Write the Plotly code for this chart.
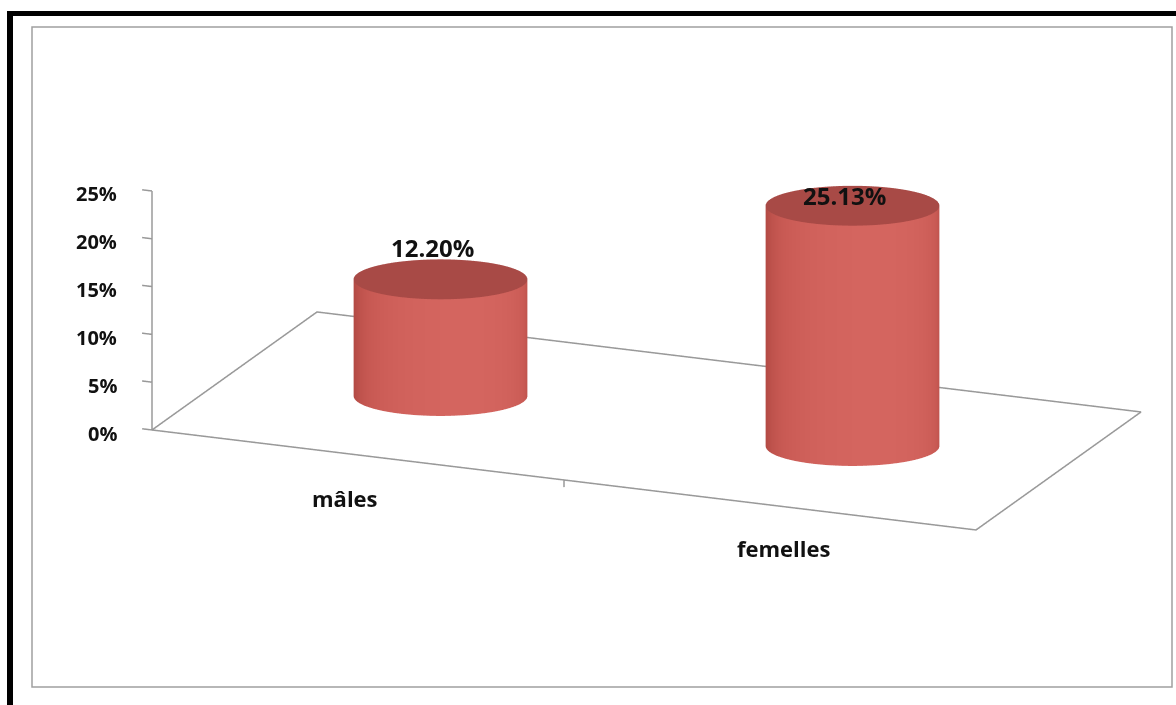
import numpy as np
import plotly.graph_objects as go

# ---------------- data ----------------
categories = ["mâles", "femelles"]
values = [12.20, 25.13]
value_labels = ["12.20%", "25.13%"]
tick_values = [0, 5, 10, 15, 20, 25]
tick_labels = ["0%", "5%", "10%", "15%", "20%", "25%"]

# ---------------- geometry / style ----------------
W, H = 1176, 705
X0, X1 = -0.5, 1.5          # floor extent along category axis
ZMAX = 25.0
ANCHOR = (152, 430)         # screen position of front-left floor corner
XVEC = (412, 50)            # screen step of one category unit
DVEC = (165, -118)          # screen vector of the whole floor depth
ZPIX = 239                  # screen height of ZMAX

# derive an orthographic view matching these screen vectors
A, c1 = XVEC
B = np.sqrt(DVEC[0] * c1 * A / -DVEC[1])
sin_th = c1 / B
DEPTH = DVEC[0] / B
SCALE = np.hypot(A, B)
psi = -np.arctan2(B, A)
th = np.arcsin(sin_th)
Z_UNITS = ZPIX / (SCALE * np.cos(th))

RAD_W, RAD_D = 0.195, 0.152  # cylinder cross-section (across / along the view)
YC = DEPTH / 2

pad = (0.1, 0.1, 1.5)
xr = [X0 - pad[0], X1 + pad[0]]
yr = [-pad[1], DEPTH + pad[1]]
zr = [-pad[2], ZMAX + pad[2]]
xmid, ymid, zmid = sum(xr) / 2, sum(yr) / 2, sum(zr) / 2

F = np.array([np.cos(th) * np.sin(psi), np.cos(th) * np.cos(psi), -np.sin(th)])
Rv = np.array([np.cos(psi), -np.sin(psi), 0.0])
Uv = np.array([np.sin(th) * np.sin(psi), np.sin(th) * np.cos(psi), np.cos(th)])
Dh = np.array([np.sin(psi), np.cos(psi), 0.0])   # horizontal viewing direction
K = SCALE / (H / 2)         # plotly ortho: one scene unit = half the viewport height

aspect = dict(x=K * (xr[1] - xr[0]), y=K * (yr[1] - yr[0]), z=K * (zr[1] - zr[0]) / ZMAX * Z_UNITS)


def norm(x, y, z):
    return np.array([x - xmid, y - ymid, (z - zmid) * Z_UNITS / ZMAX])


P = norm(X0, 0, 0)
a = P @ Rv - (ANCHOR[0] - W / 2) / SCALE
b = P @ Uv + (ANCHOR[1] - H / 2) / SCALE
T = K * (a * Rv + b * Uv)
E = T - 3.0 * F

EDGE = "#b44b45"
MID = "#c95a54"
LIGHT = "#d4655f"
CAP = "#a84a46"
LINE = "#999999"

fig = go.Figure()

theta = np.linspace(0, 2 * np.pi, 181)
ct, st = np.cos(theta), np.sin(theta)
# shading: light from the viewer, turned slightly to the right
rot = np.radians(12)
nW, nD = ct / RAD_W, st / RAD_D
shade = np.clip((nW * np.sin(rot) - nD * np.cos(rot)) / np.hypot(nW, nD), 0, 1)
ring_x = RAD_W * ct * Rv[0] + RAD_D * st * Dh[0]
ring_y = RAD_W * ct * Rv[1] + RAD_D * st * Dh[1]
for i, v in enumerate(values):
    zz = np.linspace(0, v, 6)
    ones = np.ones((len(zz), 1))
    Xs = i + ring_x[None, :] * ones
    Ys = YC + ring_y[None, :] * ones
    Zs = zz[:, None] * np.ones((1, len(theta)))
    fig.add_trace(go.Surface(
        x=Xs, y=Ys, z=Zs, surfacecolor=shade[None, :] * ones,
        colorscale=[[0, EDGE], [0.55, MID], [1, LIGHT]], cmin=0, cmax=1,
        showscale=False, hoverinfo="skip",
        lighting=dict(ambient=1.0, diffuse=0.0, specular=0.0, roughness=1.0, fresnel=0.0),
    ))
    rho = np.linspace(0, 1, 8)[:, None]
    Xc = i + rho * ring_x[None, :]
    Yc = YC + rho * ring_y[None, :]
    Zc = np.full_like(Xc, v)
    fig.add_trace(go.Surface(
        x=Xc, y=Yc, z=Zc, surfacecolor=np.zeros_like(Zc),
        colorscale=[[0, CAP], [1, CAP]], showscale=False, hoverinfo="skip",
        lighting=dict(ambient=1.0, diffuse=0.0, specular=0.0, roughness=1.0, fresnel=0.0),
    ))

# floor outline
fig.add_trace(go.Scatter3d(
    x=[X0, X1, X1, X0, X0], y=[0, 0, DEPTH, DEPTH, 0], z=[0, 0, 0, 0, 0],
    mode="lines", line=dict(color=LINE, width=3), hoverinfo="skip", showlegend=False))
# value axis with ticks
ax_x, ax_y, ax_z = [X0, X0], [0, 0], [0, ZMAX]
for t in tick_values:
    ax_x += [None, X0, X0 - 0.024]
    ax_y += [None, 0, 0]
    ax_z += [None, t, t]
fig.add_trace(go.Scatter3d(
    x=ax_x, y=ax_y, z=ax_z, mode="lines", line=dict(color=LINE, width=3),
    hoverinfo="skip", showlegend=False, connectgaps=False))
# category separator tick
fig.add_trace(go.Scatter3d(
    x=[0.5, 0.5], y=[0, 0], z=[0, -0.75], mode="lines",
    line=dict(color=LINE, width=3), hoverinfo="skip", showlegend=False))

annotations = []
FONT = "Open Sans"
for t, lab in zip(tick_values, tick_labels):
    annotations.append(dict(x=X0, y=0, z=t, text="<b>%s</b>" % lab, showarrow=False,
                            xanchor="right", yanchor="middle", xshift=-33, yshift=-3,
                            font=dict(family=FONT, size=20, color="#111111")))
cat_xshift = [-13, 14]
for i, c in enumerate(categories):
    annotations.append(dict(x=i, y=0, z=0, text="<b>%s</b>" % c, showarrow=False,
                            xanchor="center", yanchor="middle", xshift=cat_xshift[i], yshift=-43,
                            font=dict(family=FONT, size=22, color="#111111")))
label_shift = [32, 10]
for i, (v, lab) in enumerate(zip(values, value_labels)):
    annotations.append(dict(x=i, y=YC, z=v, text="<b>%s</b>" % lab, showarrow=False,
                            xanchor="center", yanchor="middle", xshift=-8, yshift=label_shift[i],
                            font=dict(family=FONT, size=24, color="#111111")))

hidden = dict(visible=False, showspikes=False)
fig.update_layout(
    width=W, height=H, margin=dict(l=0, r=0, t=0, b=0),
    paper_bgcolor="white", showlegend=False, hovermode=False,
    scene=dict(
        domain=dict(x=[0, 1], y=[0, 1]),
        xaxis=dict(range=xr, **hidden), yaxis=dict(range=yr, **hidden), zaxis=dict(range=zr, **hidden),
        aspectmode="manual", aspectratio=aspect,
        camera=dict(eye=dict(x=E[0], y=E[1], z=E[2]), center=dict(x=T[0], y=T[1], z=T[2]),
                    up=dict(x=0, y=0, z=1), projection=dict(type="orthographic")),
        annotations=annotations, bgcolor="rgba(0,0,0,0)", dragmode=False,
    ),
    shapes=[
        dict(type="rect", xref="paper", yref="paper", x0=32 / W, x1=1172 / W, y0=1 - 687 / H, y1=1 - 27 / H,
             line=dict(color="#a0a0a0", width=1.5)),
        dict(type="line", xref="paper", yref="paper", x0=10 / W, x1=10 / W, y0=0, y1=1 - 11 / H,
             line=dict(color="black", width=6)),
        dict(type="line", xref="paper", yref="paper", x0=7 / W, x1=1, y0=1 - 13.5 / H, y1=1 - 13.5 / H,
             line=dict(color="black", width=5)),
    ],
)
fig.write_html("out.html")
